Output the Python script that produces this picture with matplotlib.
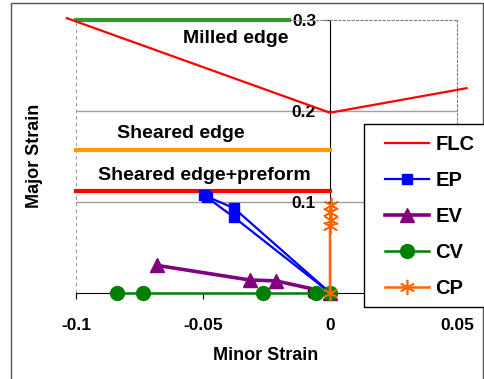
import matplotlib
matplotlib.use("Agg")
import matplotlib.pyplot as plt
from matplotlib.patches import Rectangle

plt.rcParams['font.family'] = ['Liberation Sans', 'DejaVu Sans']
plt.rcParams['font.weight'] = 'bold'

# forming limit curve
flc_x = [-0.1036, 0.0, 0.0538]
flc_y = [0.302, 0.198, 0.225]

# measured strains
ep_x = [[-0.0495, -0.0378, 0.0], [-0.0485, -0.0378, 0.0]]
ep_y = [[0.107, 0.093, 0.0], [0.105, 0.083, 0.0]]
ev_x = [-0.068, -0.0316, -0.0213, 0.0]
ev_y = [0.030, 0.014, 0.013, 0.0]
cv_x = [-0.0838, -0.0735, -0.0265, -0.0055, 0.0]
cv_y = [0.0, 0.0, 0.0, 0.0, 0.0]
cp_x = [0.0, 0.0, 0.0002, 0.0, 0.0002]
cp_y = [0.0, 0.073, 0.080, 0.089, 0.097]

# limit lines for edge conditions
edge_names = ["Milled edge", "Sheared edge", "Sheared edge+preform"]
edge_y = [0.3, 0.157, 0.112]
edge_x_end = [-0.0162, 0.0, 0.0]
edge_colors = ["#339933", "#FF9900", "#FF0000"]

xticks = [-0.1, -0.05, 0, 0.05]
xtick_labels = ["-0.1", "-0.05", "0", "0.05"]
yticks = [0, 0.1, 0.2, 0.3]
ytick_labels = ["0", "0.1", "0.2", "0.3"]

W, H = 485, 379
fig = plt.figure(figsize=(W / 100, H / 100), dpi=100)
ax = fig.add_axes([76 / W, 1 - 292.7 / H, (457 - 76) / W, (292.7 - 20) / H])
ax.set_xlim(-0.1, 0.05)
ax.set_ylim(0, 0.3)

# outer chart border
fig.patches.append(Rectangle((11 / W, -0.05), (483 - 11) / W, 1 - 3 / H + 0.05,
                             transform=fig.transFigure, fill=False,
                             edgecolor="#555555", lw=1))

# plot area: dotted border, grey gridlines
for s in ["top", "right"]:
    ax.spines[s].set_linestyle((0, (2, 2)))
    ax.spines[s].set_color("#808080")
ax.axvline(-0.1, color="#808080", ls=(0, (2, 2)), lw=1.2, zorder=1)
for g in yticks[1:-1]:
    ax.axhline(g, color="#A0A0A0", lw=1, zorder=1)

ax.spines["left"].set_position(("data", 0))
ax.spines["left"].set_zorder(2)
ax.spines["bottom"].set_color("black")

ax.set_xticks(xticks, xtick_labels)
ax.set_yticks(yticks, ytick_labels)
ax.tick_params(axis="x", direction="out", length=4, pad=14, labelsize=12.5)
ax.tick_params(axis="y", direction="out", length=4, pad=6, labelsize=12.5)

for name, yv, xe, c in zip(edge_names, edge_y, edge_x_end, edge_colors):
    ax.plot([-0.1, xe], [yv, yv], color=c, lw=3, zorder=3, clip_on=False)

ax.text(-0.0372, 0.280, edge_names[0], ha="center", va="center", fontsize=14)
ax.text(-0.0589, 0.1755, edge_names[1], ha="center", va="center", fontsize=14)
ax.text(-0.0494, 0.129, edge_names[2], ha="center", va="center", fontsize=14)

h_flc, = ax.plot(flc_x, flc_y, color="#FF0000", lw=1.6, clip_on=False, zorder=4)
for i in range(len(ep_x)):
    h_ep, = ax.plot(ep_x[i], ep_y[i], color="#0000FF", lw=1.6, marker="s",
                    ms=6.5, zorder=5, clip_on=False)
h_ev, = ax.plot(ev_x, ev_y, color="#800080", lw=2.6, marker="^", ms=10,
                zorder=5, clip_on=False)
h_cv, = ax.plot(cv_x, cv_y, color="#008000", lw=1.8, marker="o", ms=10,
                zorder=6, clip_on=False)
h_cp, = ax.plot(cp_x, cp_y, color="#FF6600", lw=1.8, marker=(6, 2, 0), ms=11,
                mew=1.2, zorder=7, clip_on=False)

# legend frame (runs past the right edge of the picture)
fig.patches.append(Rectangle((364 / W, 1 - 307 / H), 0.5, (307 - 124) / H,
                             transform=fig.transFigure, facecolor="white",
                             edgecolor="black", lw=1, zorder=8))
leg = fig.legend([h_flc, h_ep, h_ev, h_cv, h_cp], ["FLC", "EP", "EV", "CV", "CP"],
                 loc="upper left", bbox_to_anchor=(385 / W, 1 - 135 / H),
                 borderaxespad=0, fontsize=14.5, frameon=False,
                 handlelength=2.2, handletextpad=0.3, labelspacing=0.85,
                 borderpad=0)
leg.set_zorder(9)

fig.text(35 / W, 1 - 156 / H, "Major Strain", rotation=90, ha="center",
         va="center", fontsize=13)
fig.text(266 / W, 1 - 355 / H, "Minor Strain", ha="center", va="center",
         fontsize=13)

fig.savefig("out.png", dpi=100)
